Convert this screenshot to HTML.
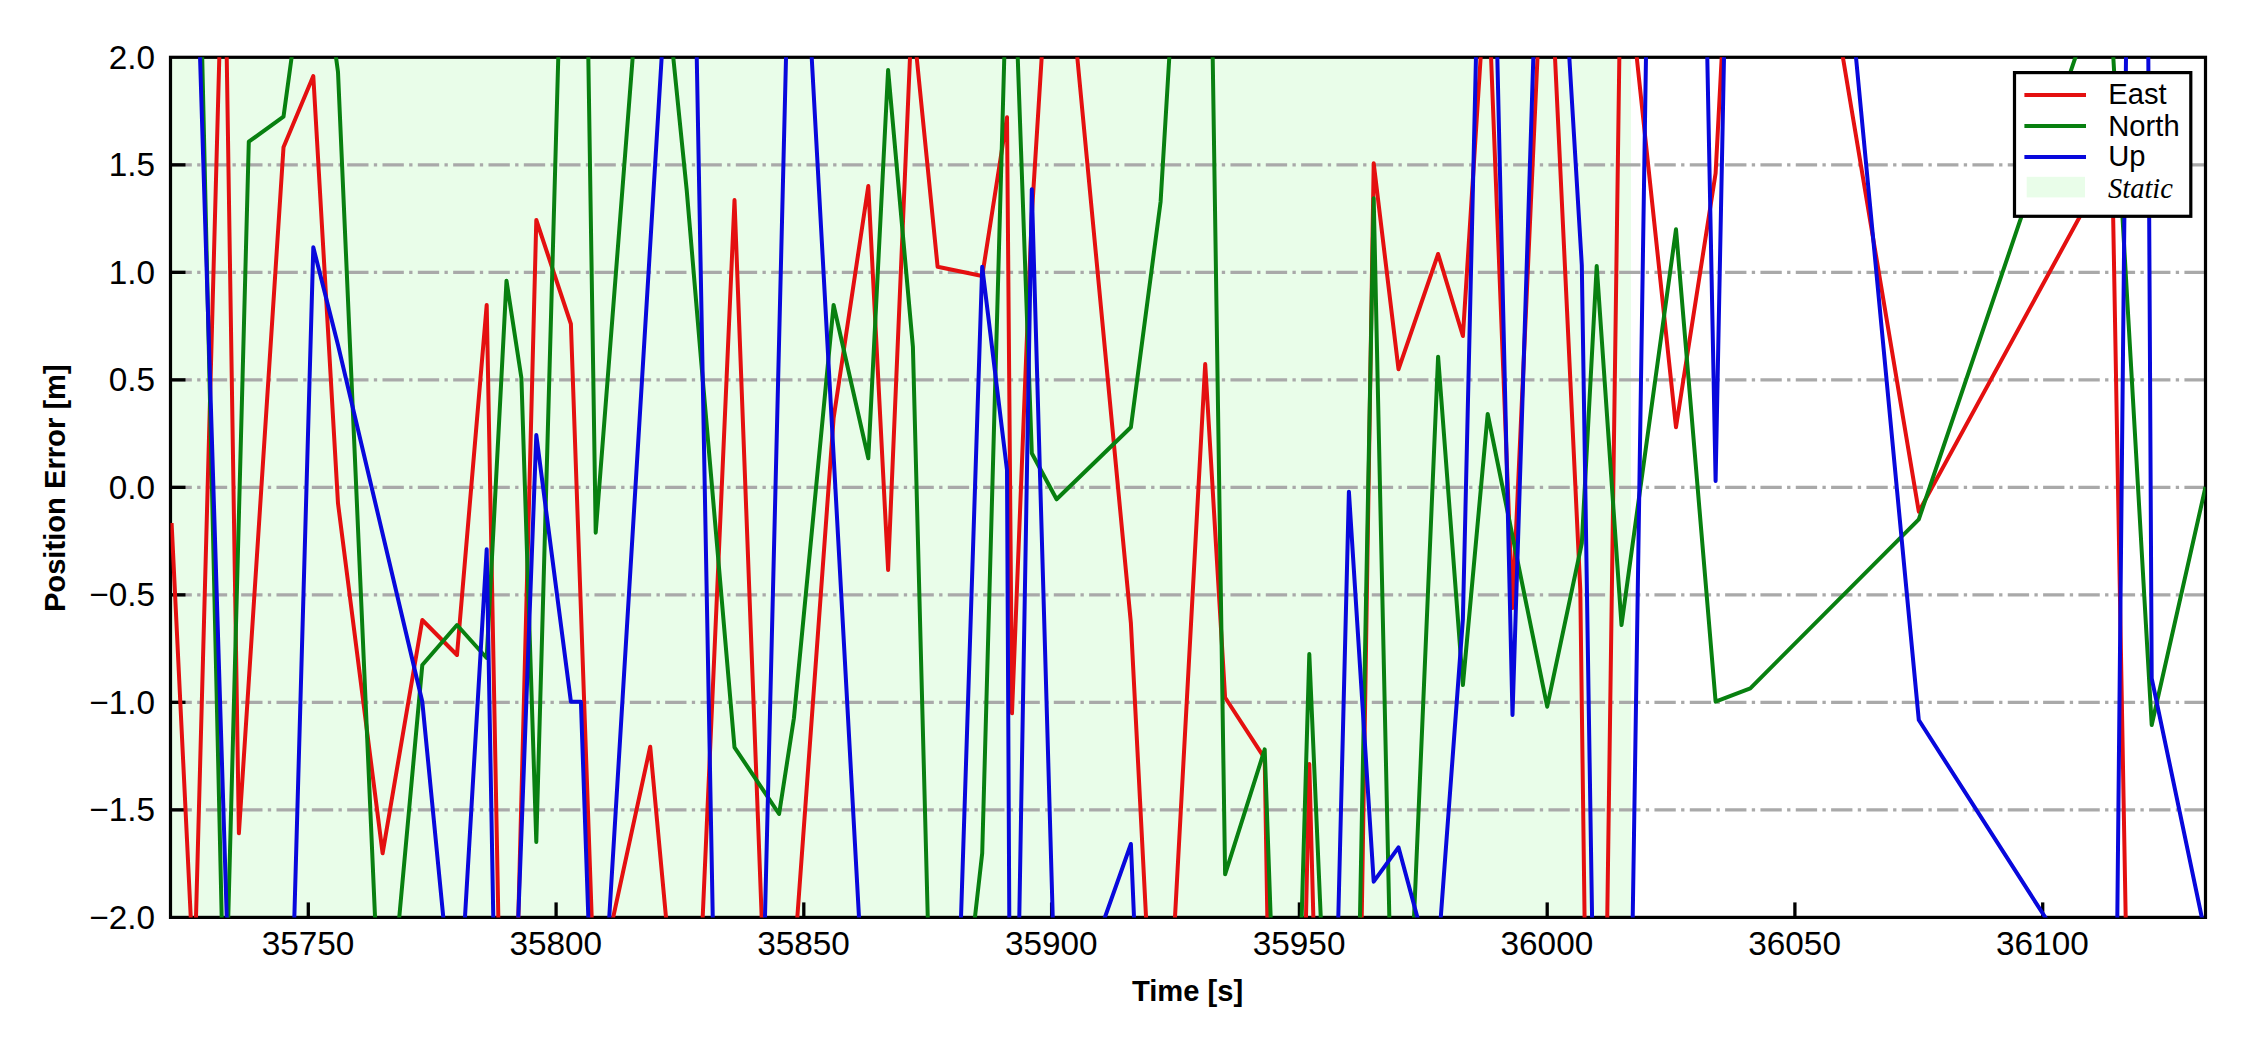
<!DOCTYPE html>
<html lang="en">
<head>
<meta charset="utf-8">
<title>Position Error</title>
<style>
html,body{margin:0;padding:0;background:#fff;}
body{width:2250px;height:1050px;overflow:hidden;}
</style>
</head>
<body>
<svg width="2250" height="1050" viewBox="0 0 2250 1050" style="display:block">
<defs><clipPath id="ax"><rect x="170.5" y="57.3" width="2035.0" height="860.1"/></clipPath></defs>
<rect x="0" y="0" width="2250" height="1050" fill="#ffffff"/>
<rect x="170.5" y="57.3" width="1460.5" height="860.1" fill="#e9fde9"/>
<line x1="170.5" y1="164.85" x2="2205.5" y2="164.85" stroke="#a9a9a9" stroke-width="3.10" stroke-dasharray="21.333 5.333 3.333 5.333"/>
<line x1="170.5" y1="272.35" x2="2205.5" y2="272.35" stroke="#a9a9a9" stroke-width="3.10" stroke-dasharray="21.333 5.333 3.333 5.333"/>
<line x1="170.5" y1="379.85" x2="2205.5" y2="379.85" stroke="#a9a9a9" stroke-width="3.10" stroke-dasharray="21.333 5.333 3.333 5.333"/>
<line x1="170.5" y1="487.35" x2="2205.5" y2="487.35" stroke="#a9a9a9" stroke-width="3.10" stroke-dasharray="21.333 5.333 3.333 5.333"/>
<line x1="170.5" y1="594.85" x2="2205.5" y2="594.85" stroke="#a9a9a9" stroke-width="3.10" stroke-dasharray="21.333 5.333 3.333 5.333"/>
<line x1="170.5" y1="702.35" x2="2205.5" y2="702.35" stroke="#a9a9a9" stroke-width="3.10" stroke-dasharray="21.333 5.333 3.333 5.333"/>
<line x1="170.5" y1="809.85" x2="2205.5" y2="809.85" stroke="#a9a9a9" stroke-width="3.10" stroke-dasharray="21.333 5.333 3.333 5.333"/>
<g stroke="#000" stroke-width="3.3">
<line x1="308.3" y1="917.4" x2="308.3" y2="902.4"/>
<line x1="556.1" y1="917.4" x2="556.1" y2="902.4"/>
<line x1="803.8" y1="917.4" x2="803.8" y2="902.4"/>
<line x1="1051.6" y1="917.4" x2="1051.6" y2="902.4"/>
<line x1="1299.4" y1="917.4" x2="1299.4" y2="902.4"/>
<line x1="1547.2" y1="917.4" x2="1547.2" y2="902.4"/>
<line x1="1794.9" y1="917.4" x2="1794.9" y2="902.4"/>
<line x1="2042.7" y1="917.4" x2="2042.7" y2="902.4"/>
<line x1="170.5" y1="164.85" x2="185.5" y2="164.85"/>
<line x1="170.5" y1="272.35" x2="185.5" y2="272.35"/>
<line x1="170.5" y1="379.85" x2="185.5" y2="379.85"/>
<line x1="170.5" y1="487.35" x2="185.5" y2="487.35"/>
<line x1="170.5" y1="594.85" x2="185.5" y2="594.85"/>
<line x1="170.5" y1="702.35" x2="185.5" y2="702.35"/>
<line x1="170.5" y1="809.85" x2="185.5" y2="809.85"/>
</g>
<rect x="170.5" y="57.3" width="2035.0" height="860.1" fill="none" stroke="#000" stroke-width="3.2"/>
<g clip-path="url(#ax)" fill="none" stroke-width="4" stroke-linejoin="round" stroke-linecap="butt">
<path d="M171.6 523.0 L192.7 957.4 M194.9 957.4 L220.4 17.3 M226.1 17.3 L238.9 833.3 L283.5 147.3 L313.3 76.0 L338.0 503.3 L382.6 853.3 L422.3 620.0 L457.0 655.0 L486.7 305.0 L499.1 957.4 M517.3 957.4 L536.3 220.0 L570.9 324.0 L593.1 957.4 M604.5 957.4 L650.2 746.7 L669.7 957.4 M700.9 957.4 L734.5 200.0 L763.2 957.4 M794.4 957.4 L833.6 418.3 L868.3 186.0 L888.1 570.0 L911.7 17.3 M912.7 17.3 L937.6 266.7 L982.2 276.0 L1007.0 117.3 L1012.0 713.3 L1031.8 215.0 L1044.2 17.3 M1073.5 17.3 L1130.9 623.3 L1148.1 957.4 M1172.8 957.4 L1205.2 364.0 L1225.1 697.5 L1264.7 758.3 L1268.0 957.4 M1305.1 957.4 L1309.3 764.0 L1314.4 957.4 M1361.1 957.4 L1373.7 163.3 L1398.5 369.3 L1438.1 254.0 L1462.9 336.0 L1483.2 17.3 M1489.5 17.3 L1512.5 608.0 L1539.3 17.3 M1553.1 17.3 L1580.3 590.0 L1585.1 957.4 M1606.7 957.4 L1619.9 17.3 M1632.5 17.3 L1676.0 427.3 L1715.6 173.3 L1723.8 17.3 M1836.2 17.3 L1918.8 511.7 L2112.1 157.5 L2126.4 957.4" stroke="#e41010"/>
<path d="M201.3 17.3 L222.6 957.4 M227.2 957.4 L248.8 141.7 L283.5 116.7 L297.1 17.3 M330.6 17.3 L338.0 72.0 L376.8 957.4 M395.6 957.4 L422.3 665.0 L457.0 625.0 L486.7 658.0 L506.5 280.7 L521.4 378.0 L536.3 842.0 L559.4 17.3 M587.7 17.3 L595.7 532.7 L635.8 17.3 M669.2 17.3 L686.7 190.0 L701.5 365.0 L734.5 747.3 L779.1 814.0 L793.9 718.3 L833.6 305.0 L868.3 458.3 L888.1 70.0 L912.9 346.7 L928.8 957.4 M970.4 957.4 L982.2 853.3 L1005.4 17.3 M1016.3 17.3 L1031.8 453.3 L1056.6 499.3 L1130.9 427.3 L1160.6 201.7 L1171.7 17.3 M1212.1 17.3 L1225.1 874.3 L1264.7 749.3 L1272.1 957.4 M1300.5 957.4 L1309.3 654.0 L1322.5 957.4 M1359.2 957.4 L1373.7 198.3 L1390.2 957.4 M1412.3 957.4 L1438.1 356.7 L1462.9 685.0 L1487.7 414.0 L1547.2 706.7 L1581.8 543.3 L1596.7 266.0 L1621.5 625.0 L1676.0 229.3 L1715.6 701.7 L1750.3 688.3 L1918.8 519.3 L2089.0 17.3 M2111.0 17.3 L2151.7 725.0 L2205.5 487.0" stroke="#088010"/>
<path d="M198.8 17.3 L228.0 957.4 M293.2 957.4 L313.3 247.3 L338.0 345.0 L422.3 701.7 L447.2 957.4 M462.6 957.4 L486.7 549.3 L494.0 957.4 M516.8 957.4 L536.3 435.0 L570.9 701.7 L580.9 701.7 L589.7 957.4 M606.8 957.4 L664.1 17.3 M696.0 17.3 L713.5 957.4 M764.0 957.4 L787.0 17.3 M809.5 17.3 L861.2 957.4 M959.7 957.4 L982.2 266.7 L1007.0 470.0 L1009.5 957.4 M1018.6 957.4 L1031.8 189.3 L1053.9 957.4 M1090.7 957.4 L1130.9 844.0 L1135.7 957.4 M1337.3 957.4 L1348.9 491.7 L1373.7 881.7 L1398.5 847.3 L1428.2 957.4 M1437.8 957.4 L1462.9 619.0 L1476.9 17.3 M1496.4 17.3 L1512.5 715.0 L1534.6 17.3 M1566.9 17.3 L1581.8 265.0 L1592.7 957.4 M1632.1 957.4 L1646.6 17.3 M1706.5 17.3 L1715.6 481.0 L1724.8 17.3 M1852.2 17.3 L1918.8 720.0 L2070.9 957.4 M2116.9 957.4 L2126.4 17.3 M2148.1 17.3 L2151.7 678.3 L2210.2 957.4" stroke="#0808dc"/>
</g>
<g font-family="'Liberation Sans', Arial, sans-serif" font-size="33.33" fill="#000">
<text x="308.0" y="955.2" text-anchor="middle">35750</text>
<text x="555.8" y="955.2" text-anchor="middle">35800</text>
<text x="803.5" y="955.2" text-anchor="middle">35850</text>
<text x="1051.3" y="955.2" text-anchor="middle">35900</text>
<text x="1299.1" y="955.2" text-anchor="middle">35950</text>
<text x="1546.9" y="955.2" text-anchor="middle">36000</text>
<text x="1794.6" y="955.2" text-anchor="middle">36050</text>
<text x="2042.4" y="955.2" text-anchor="middle">36100</text>
<text x="155.1" y="68.8" text-anchor="end">2.0</text>
<text x="155.1" y="176.3" text-anchor="end">1.5</text>
<text x="155.1" y="283.8" text-anchor="end">1.0</text>
<text x="155.1" y="391.2" text-anchor="end">0.5</text>
<text x="155.1" y="498.8" text-anchor="end">0.0</text>
<text x="155.1" y="606.2" text-anchor="end">−0.5</text>
<text x="155.1" y="713.8" text-anchor="end">−1.0</text>
<text x="155.1" y="821.2" text-anchor="end">−1.5</text>
<text x="155.1" y="928.8" text-anchor="end">−2.0</text>
</g>
<g font-family="'Liberation Sans', Arial, sans-serif" font-size="29.17" font-weight="bold" fill="#000">
<text x="1187.6" y="1000.6" text-anchor="middle">Time [s]</text>
<text transform="translate(65.2 488.2) rotate(-90)" text-anchor="middle">Position Error [m]</text>
</g>
<rect x="2014.5" y="72.6" width="176.3" height="143.7" fill="#fff" stroke="#000" stroke-width="3.2"/>
<line x1="2024.4" y1="94.9" x2="2086" y2="94.9" stroke="#e41010" stroke-width="4"/>
<line x1="2024.4" y1="125.9" x2="2086" y2="125.9" stroke="#088010" stroke-width="4"/>
<line x1="2024.4" y1="156.9" x2="2086" y2="156.9" stroke="#0808dc" stroke-width="4"/>
<rect x="2026.7" y="176.8" width="58.3" height="20.6" fill="#e9fde9"/>
<g font-family="'Liberation Sans', Arial, sans-serif" font-size="29.17" fill="#000">
<text x="2108.3" y="104.4">East</text>
<text x="2108.3" y="135.5">North</text>
<text x="2108.3" y="166.4">Up</text>
</g>
<text x="2108" y="198.1" font-family="'Liberation Serif', 'Times New Roman', serif" font-style="italic" font-size="28.5" fill="#000">Static</text>
</svg>
</body>
</html>
